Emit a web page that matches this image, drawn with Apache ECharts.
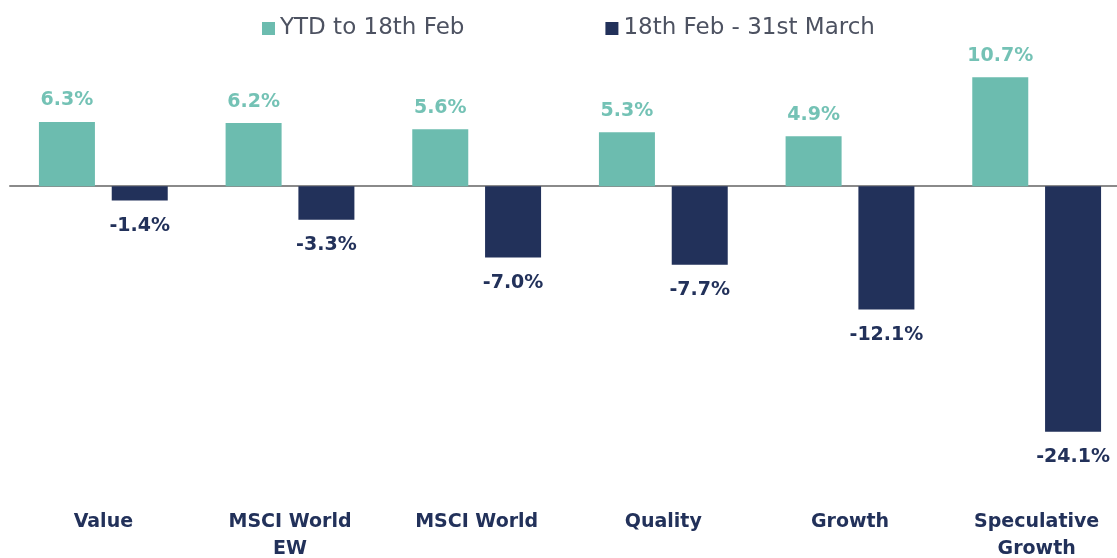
<!DOCTYPE html>
<html>
<head>
<meta charset="utf-8">
<script src="https://cdn.jsdelivr.net/npm/echarts@6/dist/echarts.min.js"></script>
<style>
  html, body { margin: 0; padding: 0; background: #fff; overflow: hidden; }
  /* a bit wider than the window: the last group runs past the right edge */
  #main { width: 1130px; height: 558px; }
</style>
</head>
<body>
<div id="main"></div>
<script>
// data
var categories = ['Value', 'MSCI World\nEW', 'MSCI World', 'Quality', 'Growth', 'Speculative\nGrowth'];
var seriesNames = ['YTD to 18th Feb', '18th Feb - 31st March'];
var ytdValues = [6.3, 6.2, 5.6, 5.3, 4.9, 10.7];
var febMarValues = [-1.4, -3.3, -7.0, -7.7, -12.1, -24.1];

var green = '#6cbcaf';
var navy = '#22315a';
var font = '"DejaVu Sans", sans-serif';

var chart = echarts.init(document.getElementById('main'));

function pct(p) { return p.value.toFixed(1) + '%'; }

var option = {
    animation: false,
    textStyle: { fontFamily: font },
    legend: {
        top: 12,
        left: 257,
        itemWidth: 13,
        itemHeight: 13,
        itemGap: 141,
        icon: 'rect',
        textStyle: { fontSize: 23, color: '#4d5261', fontFamily: font },
        data: seriesNames
    },
    grid: {
        left: 10,
        right: 0,
        top: 64,
        height: 387,
        outerBoundsMode: 'none',
        containLabel: false
    },
    xAxis: [{
        // zero line
        type: 'category',
        data: categories,
        axisLine: { onZero: true, lineStyle: { color: '#8a8a8a', width: 2 } },
        axisTick: { show: false },
        axisLabel: { show: false }
    }, {
        // category names at the bottom
        type: 'category',
        position: 'bottom',
        data: categories,
        axisLine: { show: false, onZero: false },
        axisTick: { show: false },
        axisLabel: {
            margin: 58,
            fontSize: 19,
            fontWeight: 'bold',
            color: navy,
            lineHeight: 27,
            fontFamily: font
        }
    }],
    yAxis: {
        type: 'value',
        min: -26,
        max: 12,
        show: false,
        splitLine: { show: false }
    },
    series: [{
        name: seriesNames[0],
        type: 'bar',
        data: ytdValues,
        barWidth: 56,
        barGap: '30%',
        itemStyle: { color: green },
        label: {
            show: true,
            position: 'top',
            distance: 12,
            formatter: pct,
            fontSize: 19,
            fontWeight: 'bold',
            color: '#74c2b5',
            fontFamily: font
        }
    }, {
        name: seriesNames[1],
        type: 'bar',
        data: febMarValues,
        barWidth: 56,
        itemStyle: { color: navy },
        label: {
            show: true,
            position: 'bottom',
            distance: 16,
            formatter: pct,
            fontSize: 19,
            fontWeight: 'bold',
            color: navy,
            fontFamily: font
        }
    }]
};

chart.setOption(option);
</script>
</body>
</html>
